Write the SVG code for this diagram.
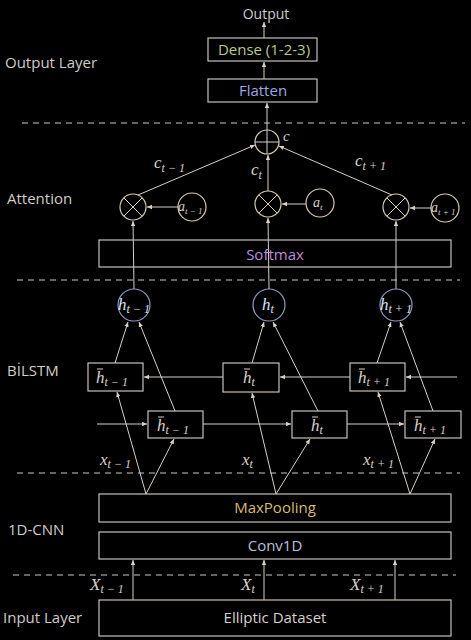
<svg xmlns="http://www.w3.org/2000/svg" width="471" height="640" viewBox="0 0 471 640">
<defs>
<marker id="ah" markerWidth="6" markerHeight="6" refX="5" refY="3" orient="auto" markerUnits="userSpaceOnUse">
<path d="M0,0.8 L5,3 L0,5.2 Z" fill="#d8d0c8"/>
</marker>
</defs>
<style>
.bg{fill:#000}
.box{fill:none;stroke:#c8c0b8;stroke-width:1.2}
.ln{stroke:#d8d0c8;stroke-width:1;fill:none}
.ar{stroke:#d8d0c8;stroke-width:1;fill:none;marker-end:url(#ah)}
.dash{stroke:#c8c8c8;stroke-width:1;stroke-dasharray:6 5}
.lbl{font-family:"Open Sans","Liberation Sans",sans-serif;font-size:15px;fill:#d0ccc8}
.bt{font-family:"Open Sans","Liberation Sans",sans-serif;font-size:15px;text-anchor:middle}
.m{font-family:"Liberation Serif",serif;font-style:italic;font-size:17px;fill:#d8d0c8}
.s{font-size:12px}
.cir{fill:none;stroke:#d8c8b0;stroke-width:1.2}
.hc{fill:none;stroke:#9098c0;stroke-width:1.2}
</style>
<rect class="bg" x="0" y="0" width="471" height="640"/>

<!-- dashed separators -->
<g id="separators">
<line class="dash" x1="22" y1="123" x2="465" y2="123"/>
<line class="dash" x1="17" y1="280" x2="460" y2="280"/>
<line class="dash" x1="17" y1="473" x2="460" y2="473"/>
<line class="dash" x1="13" y1="575" x2="456" y2="575"/>
</g>

<!-- layer labels -->
<g id="layer-labels">
<text class="lbl" x="5" y="68">Output Layer</text>
<text class="lbl" x="7" y="204">Attention</text>
<text class="lbl" x="7" y="376">BİLSTM</text>
<text class="lbl" x="8" y="535">1D-CNN</text>
<text class="lbl" x="3" y="623">Input Layer</text>
</g>

<!-- connectors -->
<g id="connectors">
<line class="ar" x1="264" y1="38" x2="264" y2="22"/>
<line class="ar" x1="264" y1="79" x2="264" y2="62"/>
<line class="ar" x1="267" y1="130" x2="267" y2="103"/>
<line class="ar" x1="138" y1="195" x2="255" y2="145"/>
<line class="ar" x1="268" y1="191" x2="268" y2="155"/>
<line class="ar" x1="392" y1="195" x2="279" y2="146"/>
<line class="ar" x1="178" y1="207" x2="147" y2="207"/>
<line class="ar" x1="306" y1="204" x2="282" y2="204"/>
<line class="ar" x1="431" y1="208" x2="410" y2="208"/>
<line class="ar" x1="134" y1="289" x2="133" y2="221"/>
<line class="ar" x1="269" y1="289" x2="268" y2="218"/>
<line class="ar" x1="396" y1="289" x2="396" y2="221"/>
<line class="ar" x1="115" y1="363" x2="128" y2="322"/>
<line class="ar" x1="175" y1="411" x2="139" y2="322"/>
<line class="ar" x1="252" y1="363" x2="264" y2="322"/>
<line class="ar" x1="318" y1="411" x2="273" y2="322"/>
<line class="ar" x1="377" y1="363" x2="391" y2="322"/>
<line class="ar" x1="433" y1="411" x2="400" y2="322"/>
<line class="ar" x1="223" y1="377" x2="144" y2="377"/>
<line class="ar" x1="350" y1="377" x2="280" y2="377"/>
<line class="ar" x1="457" y1="377" x2="406" y2="377"/>
<line class="ar" x1="97" y1="424" x2="147" y2="424"/>
<line class="ar" x1="203" y1="424" x2="291" y2="424"/>
<line class="ar" x1="347" y1="424" x2="404" y2="424"/>
<line class="ar" x1="146" y1="494" x2="117" y2="392"/>
<line class="ar" x1="146" y1="494" x2="174" y2="439"/>
<line class="ar" x1="276" y1="494" x2="252" y2="393"/>
<line class="ar" x1="276" y1="494" x2="310" y2="439"/>
<line class="ar" x1="410" y1="494" x2="378" y2="392"/>
<line class="ar" x1="410" y1="494" x2="435" y2="439"/>
<line class="ar" x1="133" y1="600" x2="133" y2="560"/>
<line class="ar" x1="264" y1="600" x2="264" y2="560"/>
<line class="ar" x1="395" y1="600" x2="395" y2="560"/>
</g>

<g id="output"><text class="bt" x="266" y="19" style="font-size:14px;fill:#d0ccc8">Output</text></g>
<g id="dense"><rect class="box" x="208" y="38" width="109" height="23"/><text class="bt" x="264" y="55" style="fill:#b9c98c">Dense (1-2-3)</text></g>
<g id="flatten"><rect class="box" x="208" y="79" width="109" height="23"/><text class="bt" x="263" y="96" style="fill:#a0a6e0">Flatten</text></g>

<g id="sum">
<circle class="cir" cx="267" cy="142" r="12"/>
<line class="ln" x1="255" y1="142" x2="279" y2="142"/>
<line class="ln" x1="267" y1="130" x2="267" y2="154"/>
<text class="m" x="283" y="141" style="font-size:15px">c</text>
</g>
<g id="c-labels">
<text class="m" x="154" y="168">c<tspan class="s" dy="4">t − 1</tspan></text>
<text class="m" x="251" y="175">c<tspan class="s" dy="4">t</tspan></text>
<text class="m" x="355" y="166">c<tspan class="s" dy="4">t + 1</tspan></text>
</g>

<g id="mul1"><circle class="cir" cx="133" cy="207" r="13"/><line class="ln" x1="124" y1="198" x2="142" y2="216"/><line class="ln" x1="142" y1="198" x2="124" y2="216"/></g>
<g id="mul2"><circle class="cir" cx="268" cy="204" r="13"/><line class="ln" x1="259" y1="195" x2="277" y2="213"/><line class="ln" x1="277" y1="195" x2="259" y2="213"/></g>
<g id="mul3"><circle class="cir" cx="396" cy="207" r="13"/><line class="ln" x1="387" y1="198" x2="405" y2="216"/><line class="ln" x1="405" y1="198" x2="387" y2="216"/></g>

<g id="a1"><circle class="cir" cx="192" cy="207" r="14"/><text class="m" x="178" y="211" style="font-size:14px">a<tspan style="font-size:9px" dy="3">t − 1</tspan></text></g>
<g id="a2"><circle class="cir" cx="320" cy="203" r="14"/><text class="m" x="313" y="207" style="font-size:14px">a<tspan style="font-size:9px" dy="3">t</tspan></text></g>
<g id="a3"><circle class="cir" cx="445" cy="208" r="14"/><text class="m" x="431" y="212" style="font-size:14px">a<tspan style="font-size:9px" dy="3">t + 1</tspan></text></g>

<g id="softmax"><rect class="box" x="99" y="240" width="352" height="27"/><text class="bt" x="275" y="260" style="fill:#b88fd8">Softmax</text></g>

<g id="h1"><circle class="hc" cx="134" cy="305" r="16"/><text class="m" x="118" y="310" style="fill:#dde0f4">h<tspan class="s" dy="3">t − 1</tspan></text></g>
<g id="h2"><circle class="hc" cx="269" cy="305" r="16"/><text class="m" x="262" y="310" style="fill:#dde0f4">h<tspan class="s" dy="3">t</tspan></text></g>
<g id="h3"><circle class="hc" cx="396" cy="305" r="16"/><text class="m" x="380" y="310" style="fill:#dde0f4">h<tspan class="s" dy="3">t + 1</tspan></text></g>

<g id="hb1"><rect class="box" x="88" y="363" width="55" height="28"/><line class="ln" x1="97" y1="369" x2="103" y2="369"/><text class="m" x="96" y="383">h<tspan class="s" dy="3">t − 1</tspan></text></g>
<g id="hb2"><rect class="box" x="223" y="363" width="56" height="29"/><line class="ln" x1="244" y1="369" x2="250" y2="369"/><text class="m" x="243" y="383">h<tspan class="s" dy="3">t</tspan></text></g>
<g id="hb3"><rect class="box" x="350" y="363" width="55" height="28"/><line class="ln" x1="359" y1="369" x2="365" y2="369"/><text class="m" x="358" y="383">h<tspan class="s" dy="3">t + 1</tspan></text></g>

<g id="hf1"><rect class="box" x="148" y="411" width="55" height="27"/><line class="ln" x1="158" y1="417" x2="164" y2="417"/><text class="m" x="157" y="431">h<tspan class="s" dy="3">t − 1</tspan></text></g>
<g id="hf2"><rect class="box" x="292" y="411" width="55" height="27"/><line class="ln" x1="312" y1="417" x2="318" y2="417"/><text class="m" x="311" y="431">h<tspan class="s" dy="3">t</tspan></text></g>
<g id="hf3"><rect class="box" x="405" y="411" width="56" height="27"/><line class="ln" x1="415" y1="417" x2="421" y2="417"/><text class="m" x="414" y="431">h<tspan class="s" dy="3">t + 1</tspan></text></g>

<g id="x-labels">
<text class="m" x="100" y="465">x<tspan class="s" dy="3">t − 1</tspan></text>
<text class="m" x="242" y="465">x<tspan class="s" dy="3">t</tspan></text>
<text class="m" x="363" y="465">x<tspan class="s" dy="3">t + 1</tspan></text>
</g>

<g id="maxpooling"><rect class="box" x="99" y="494" width="352" height="28"/><text class="bt" x="275" y="513" style="fill:#d8b878">MaxPooling</text></g>
<g id="conv1d"><rect class="box" x="99" y="532" width="352" height="27"/><text class="bt" x="275" y="551" style="fill:#b8c0dc">Conv1D</text></g>

<g id="X-labels">
<text class="m" x="90" y="590">X<tspan class="s" dy="3">t − 1</tspan></text>
<text class="m" x="241" y="590">X<tspan class="s" dy="3">t</tspan></text>
<text class="m" x="350" y="590">X<tspan class="s" dy="3">t + 1</tspan></text>
</g>

<g id="elliptic"><rect class="box" x="99" y="600" width="352" height="36"/><text class="bt" x="275" y="623" style="fill:#d8d0c8">Elliptic Dataset</text></g>
</svg>
